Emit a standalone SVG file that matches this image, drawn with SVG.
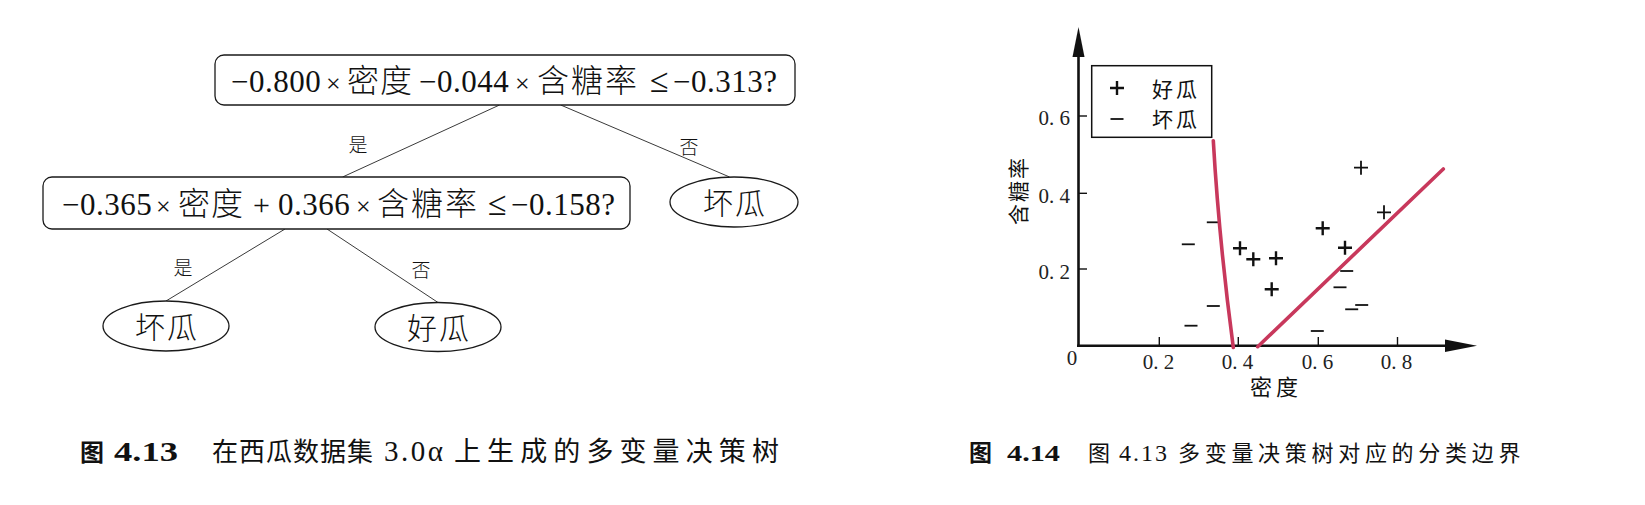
<svg xmlns="http://www.w3.org/2000/svg" xmlns:xlink="http://www.w3.org/1999/xlink" width="1645" height="505" viewBox="0 0 1645 505">
<style>
.box{fill:#fff;stroke:#1a1a1a;stroke-width:1.3}
.edge{stroke:#3a3a3a;stroke-width:1;fill:none}
.num{font-family:"Liberation Serif","Noto Sans CJK SC",serif;fill:#111;font-size:31px;letter-spacing:0.5px}
.op{font-family:"Liberation Serif","Noto Sans CJK SC",serif;fill:#111}
.le{font-family:"Liberation Serif","DejaVu Serif",serif;fill:#111;font-size:34px}
.cjk{font-family:"Noto Sans CJK SC","Liberation Serif",sans-serif;fill:#111;font-weight:300}
.lbl{font-family:"Noto Sans CJK SC",sans-serif;font-size:19px;fill:#111;font-weight:300}
.axis{stroke:#111;stroke-width:2.6;fill:none}
.tick{stroke:#111;stroke-width:1.4}
.tk{font-family:"Liberation Serif",serif;font-size:21px;fill:#222}
.mk{stroke:#111;stroke-width:2.4;fill:none}
.mk2{stroke:#111;stroke-width:1.8;fill:none}
.red{stroke:#c8385c;stroke-width:3.6;fill:none;stroke-linecap:round}
.cap{font-family:"Noto Sans CJK SC",sans-serif;fill:#111}
.capn{font-family:"Liberation Serif",serif;fill:#111}
.capb{font-family:"Liberation Serif","Noto Sans CJK SC",serif;font-weight:bold;fill:#111}
</style>
<defs>
<path id="plus" d="M-7,0H7M0,-7V7"/>
<path id="minus" d="M-6.5,0H6.5"/>
</defs>
<rect width="1645" height="505" fill="#fff"/>

<g id="connectors">
<line class="edge" x1="499.5" y1="105" x2="342.6" y2="177"/>
<line class="edge" x1="560.7" y1="105" x2="729.6" y2="177"/>
<line class="edge" x1="285" y1="229" x2="166" y2="301"/>
<line class="edge" x1="327" y1="229" x2="438" y2="302.5"/>
<text class="lbl" x="358" y="152" text-anchor="middle">是</text>
<text class="lbl" x="689" y="154" text-anchor="middle">否</text>
<text class="lbl" x="183" y="275" text-anchor="middle">是</text>
<text class="lbl" x="421" y="277" text-anchor="middle">否</text>
</g>

<g id="node-root">
<rect class="box" x="215" y="55" width="580" height="50" rx="9"/>
<text y="92" font-size="30"><tspan class="num" x="231">−0.800</tspan><tspan class="op" x="326" font-size="26">×</tspan><tspan class="cjk" x="347" font-size="32" letter-spacing="1">密度</tspan><tspan class="num" x="419">−0.044</tspan><tspan class="op" x="515" font-size="26">×</tspan><tspan class="cjk" x="537" font-size="32" letter-spacing="2">含糖率</tspan><tspan class="le" x="650">≤</tspan><tspan class="num" x="673">−0.313?</tspan></text>
</g>

<g id="node-left">
<rect class="box" x="43" y="177" width="587" height="52" rx="9"/>
<text y="215" font-size="30"><tspan class="num" x="62">−0.365</tspan><tspan class="op" x="156" font-size="26">×</tspan><tspan class="cjk" x="178" font-size="32" letter-spacing="1">密度</tspan><tspan class="op" x="253">+</tspan><tspan class="num" x="278">0.366</tspan><tspan class="op" x="356" font-size="26">×</tspan><tspan class="cjk" x="377" font-size="32" letter-spacing="2">含糖率</tspan><tspan class="le" x="488">≤</tspan><tspan class="num" x="511">−0.158?</tspan></text>
</g>

<g id="node-bad-right">
<ellipse class="box" cx="734" cy="202" rx="64" ry="25"/>
<text class="cjk" x="735" y="214" font-size="30" text-anchor="middle" letter-spacing="2">坏瓜</text>
</g>

<g id="node-bad-left">
<ellipse class="box" cx="166" cy="326" rx="63" ry="25"/>
<text class="cjk" x="167" y="338" font-size="30" text-anchor="middle" letter-spacing="2">坏瓜</text>
</g>

<g id="node-good">
<ellipse class="box" cx="438" cy="327" rx="63" ry="24.5"/>
<text class="cjk" x="439" y="339" font-size="30" text-anchor="middle" letter-spacing="2">好瓜</text>
</g>

<g id="caption-1">
<text class="capb" x="80" y="461" font-size="24">图</text>
<text class="capb" x="114" y="461" font-size="28" textLength="64" lengthAdjust="spacingAndGlyphs">4.13</text>
<text y="461"><tspan class="cap" x="212" font-size="26" letter-spacing="1">在西瓜数据集</tspan><tspan class="capn" x="384" font-size="29" letter-spacing="2.5">3.0α</tspan><tspan class="cap" x="454" font-size="27" letter-spacing="6.1">上生成的多变量决策树</tspan></text>
</g>

<g id="plot">
<line class="axis" x1="1078.5" y1="347" x2="1078.5" y2="50"/>
<polygon points="1078.5,27 1072.5,57 1084.5,57" fill="#111"/>
<line class="axis" x1="1077" y1="345.7" x2="1450" y2="345.7"/>
<polygon points="1477,345.7 1445,339.5 1445,351.9" fill="#111"/>
<line class="tick" x1="1078.5" y1="269" x2="1087" y2="269"/>
<line class="tick" x1="1078.5" y1="193.3" x2="1087" y2="193.3"/>
<line class="tick" x1="1078.5" y1="116" x2="1087" y2="116"/>
<line class="tick" x1="1159.3" y1="345.7" x2="1159.3" y2="337"/>
<line class="tick" x1="1238.3" y1="345.7" x2="1238.3" y2="337"/>
<line class="tick" x1="1318.3" y1="345.7" x2="1318.3" y2="337"/>
<line class="tick" x1="1397.5" y1="345.7" x2="1397.5" y2="337"/>
<text class="tk" x="1070" y="279" text-anchor="end">0. 2</text>
<text class="tk" x="1070" y="203" text-anchor="end">0. 4</text>
<text class="tk" x="1070" y="124.5" text-anchor="end">0. 6</text>
<text class="tk" x="1072" y="365" text-anchor="middle">0</text>
<text class="tk" x="1158.5" y="369" text-anchor="middle">0. 2</text>
<text class="tk" x="1237.5" y="369" text-anchor="middle">0. 4</text>
<text class="tk" x="1317.5" y="369" text-anchor="middle">0. 6</text>
<text class="tk" x="1396.5" y="369" text-anchor="middle">0. 8</text>
<text class="cap" x="1250" y="395" font-size="22" letter-spacing="4">密度</text>
<text class="cap" transform="translate(1026,190.5) rotate(-90)" x="0" y="0" font-size="21" letter-spacing="2" text-anchor="middle">含糖率</text>

<rect x="1091.7" y="65.7" width="120" height="71.6" fill="#fff" stroke="#111" stroke-width="1.5"/>
<use href="#plus" class="mk" x="1117" y="88"/>
<use href="#minus" class="mk2" x="1117" y="119"/>
<text class="cap" x="1152" y="97" font-size="21" letter-spacing="3">好瓜</text>
<text class="cap" x="1152" y="127" font-size="21" letter-spacing="3">坏瓜</text>

<g id="good-points">
<use href="#plus" class="mk" x="1240" y="248.3"/>
<use href="#plus" class="mk" x="1253.3" y="259.3"/>
<use href="#plus" class="mk" x="1276" y="258.3"/>
<use href="#plus" class="mk" x="1271.7" y="289.3"/>
<use href="#plus" class="mk" x="1322.7" y="228.3"/>
<use href="#plus" class="mk" x="1345" y="247.7"/>
<use href="#plus" class="mk2" x="1384" y="212.3"/>
<use href="#plus" class="mk2" x="1361" y="167.7"/>
</g>
<g id="bad-points">
<use href="#minus" class="mk2" x="1213.3" y="222.3"/>
<use href="#minus" class="mk2" x="1188.3" y="244.3"/>
<use href="#minus" class="mk2" x="1213.3" y="306"/>
<use href="#minus" class="mk2" x="1191" y="325.7"/>
<use href="#minus" class="mk2" x="1346.7" y="271"/>
<use href="#minus" class="mk2" x="1340" y="287.3"/>
<use href="#minus" class="mk2" x="1351.7" y="309.3"/>
<use href="#minus" class="mk2" x="1361.7" y="305"/>
<use href="#minus" class="mk2" x="1317.3" y="331"/>
</g>
<path class="red" d="M1213.3,140.7 Q1219,240 1233.3,347.5"/>
<path class="red" d="M1257.7,346.7 L1443.3,169"/>
</g>

<g id="caption-2">
<text class="capb" x="969" y="461" font-size="23">图</text>
<text class="capb" x="1007" y="461" font-size="23" textLength="53" lengthAdjust="spacingAndGlyphs">4.14</text>
<text y="461"><tspan class="cap" x="1088" font-size="22">图</tspan><tspan class="capn" x="1119" font-size="24" letter-spacing="2">4.13</tspan><tspan class="cap" x="1178" font-size="22" letter-spacing="4.7">多变量决策树对应的分类边界</tspan></text>
</g>
</svg>
